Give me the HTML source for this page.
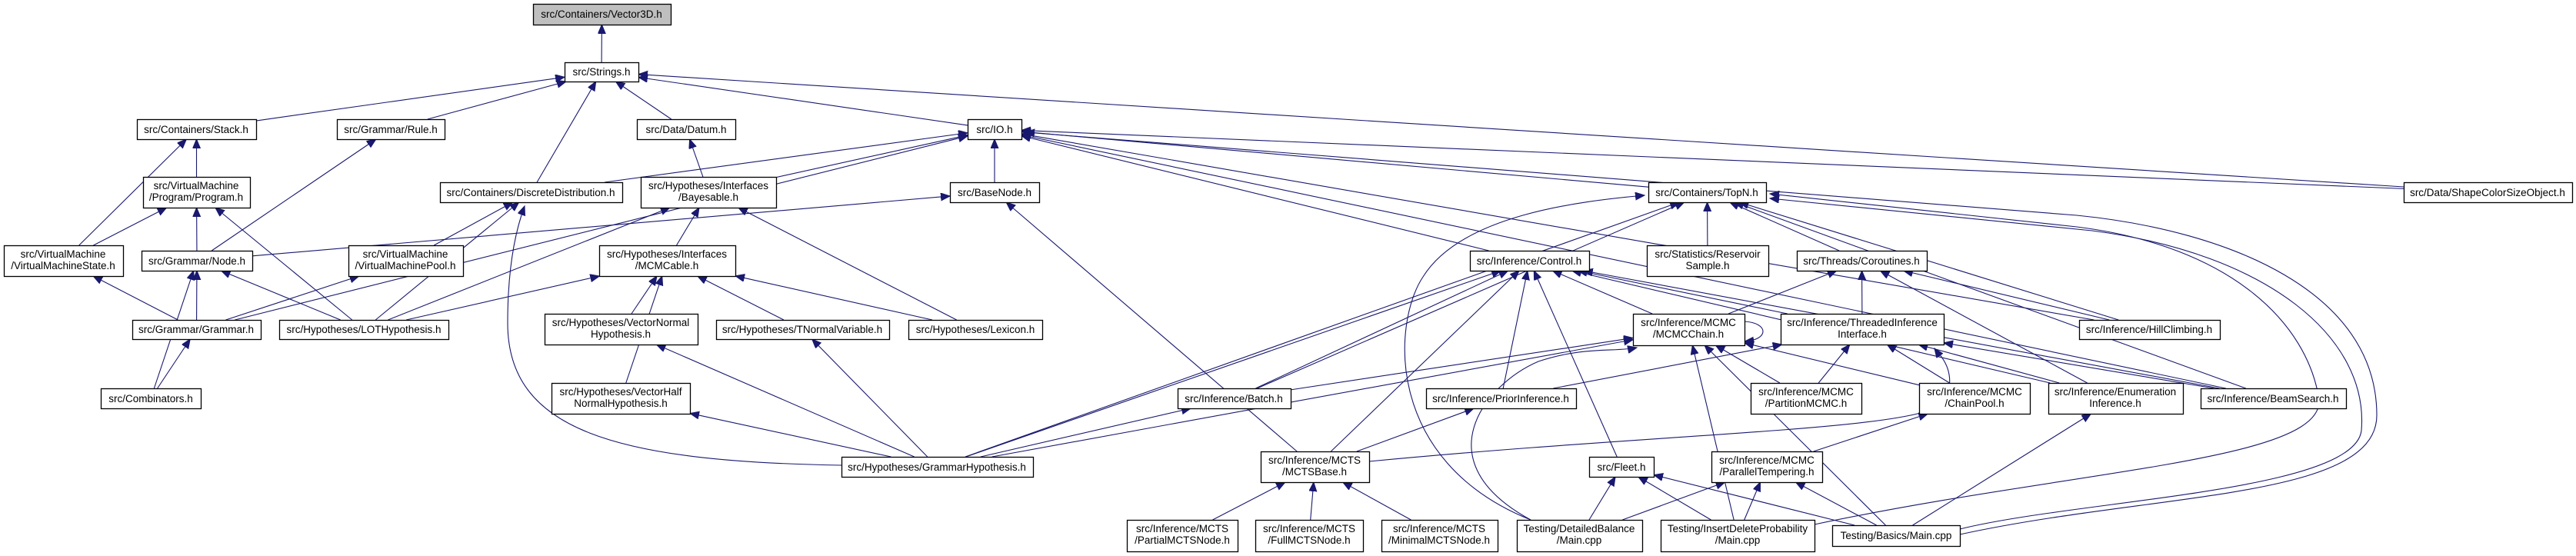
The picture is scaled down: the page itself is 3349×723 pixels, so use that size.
<!DOCTYPE html>
<html><head><meta charset="utf-8"><style>
html,body{margin:0;padding:0;background:#fff;}
svg{display:block;}
text{font-family:"Liberation Sans",Arial,sans-serif;font-size:13.5px;fill:#000;}
</style></head><body>
<svg id="g" xmlns="http://www.w3.org/2000/svg" width="3349" height="723" viewBox="0 0 3349 723">
<defs><marker id="a" markerUnits="userSpaceOnUse" markerWidth="14" markerHeight="12" refX="12" refY="5" orient="auto"><path d="M0,0 L12,5 L0,10 z" fill="#191970" stroke="#191970"/></marker></defs>
<g id="edges" fill="none" stroke="#191970" stroke-width="1.1"></g>
<g id="nodes"></g>
</svg>
<script>
var N={
V3D:[693,5,179,27,["src/Containers/Vector3D.h"],1],
STR:[734,81,96,25,["src/Strings.h"]],
STACK:[178,155,155,26,["src/Containers/Stack.h"]],
RULE:[438,155,140,26,["src/Grammar/Rule.h"]],
DATUM:[828,155,128,26,["src/Data/Datum.h"]],
IO:[1258,155,70,26,["src/IO.h"]],
SHAPE:[3125,237,219,26,["src/Data/ShapeColorSizeObject.h"]],
PROG:[186,230,139,40,["src/VirtualMachine","/Program/Program.h"]],
DD:[572,237,237,26,["src/Containers/DiscreteDistribution.h"]],
BAYES:[833,230,176,40,["src/Hypotheses/Interfaces","/Bayesable.h"]],
BASE:[1235,237,116,26,["src/BaseNode.h"]],
TOPN:[2143,237,153,26,["src/Containers/TopN.h"]],
VMS:[5,319,155,40,["src/VirtualMachine","/VirtualMachineState.h"]],
NODE:[184,326,144,26,["src/Grammar/Node.h"]],
VMP:[453,319,149,40,["src/VirtualMachine","/VirtualMachinePool.h"]],
MCMCABLE:[779,319,177,40,["src/Hypotheses/Interfaces","/MCMCable.h"]],
CONTROL:[1911,326,155,26,["src/Inference/Control.h"]],
RES:[2141,319,158,40,["src/Statistics/Reservoir","Sample.h"]],
COR:[2336,326,169,26,["src/Threads/Coroutines.h"]],
GRAMMAR:[172,416,167,25,["src/Grammar/Grammar.h"]],
LOT:[363,416,220,25,["src/Hypotheses/LOTHypothesis.h"]],
VNH:[708,408,199,40,["src/Hypotheses/VectorNormal","Hypothesis.h"]],
TNV:[931,416,225,25,["src/Hypotheses/TNormalVariable.h"]],
LEX:[1181,416,174,25,["src/Hypotheses/Lexicon.h"]],
MCMCCHAIN:[2123,408,145,41,["src/Inference/MCMC","/MCMCChain.h"]],
TII:[2315,408,212,40,["src/Inference/ThreadedInference","Interface.h"]],
HILL:[2703,416,183,25,["src/Inference/HillClimbing.h"]],
COMB:[131,505,130,26,["src/Combinators.h"]],
VHNH:[717,498,180,40,["src/Hypotheses/VectorHalf","NormalHypothesis.h"]],
BATCH:[1531,505,147,26,["src/Inference/Batch.h"]],
PRIOR:[1854,505,195,26,["src/Inference/PriorInference.h"]],
PART:[2276,498,144,40,["src/Inference/MCMC","/PartitionMCMC.h"]],
CHAINPOOL:[2495,498,144,40,["src/Inference/MCMC","/ChainPool.h"]],
ENUM:[2663,498,175,40,["src/Inference/Enumeration","Inference.h"]],
BEAM:[2861,505,189,26,["src/Inference/BeamSearch.h"]],
GH:[1094,594,249,26,["src/Hypotheses/GrammarHypothesis.h"]],
MCTS:[1639,587,141,40,["src/Inference/MCTS","/MCTSBase.h"]],
FLEET:[2066,594,84,26,["src/Fleet.h"]],
PT:[2225,587,144,40,["src/Inference/MCMC","/ParallelTempering.h"]],
PMN:[1465,676,144,41,["src/Inference/MCTS","/PartialMCTSNode.h"]],
FMN:[1632,676,140,41,["src/Inference/MCTS","/FullMCTSNode.h"]],
MMN:[1796,676,151,41,["src/Inference/MCTS","/MinimalMCTSNode.h"]],
DB:[1972,676,163,41,["Testing/DetailedBalance","/Main.cpp"]],
IDP:[2159,676,200,41,["Testing/InsertDeleteProbability","/Main.cpp"]],
BASICS:[2382,683,166,27,["Testing/Basics/Main.cpp"]]
};
var E="STR>V3D STACK>STR RULE>STR DD>STR DATUM>STR IO>STR SHAPE>STR PROG>STACK VMS>STACK VMS>PROG NODE>PROG LOT>PROG NODE>RULE GRAMMAR>VMS GRAMMAR>NODE GRAMMAR>VMP GRAMMAR>IO COMB>NODE COMB>GRAMMAR LOT>NODE LOT>DD LOT>BAYES LOT>MCMCABLE VMP>DD NODE>BASE DD>IO BAYES>IO BASE>IO TOPN>IO CONTROL>IO SHAPE>IO HILL>IO BEAM>IO BAYES>DATUM MCMCABLE>BAYES LEX>BAYES LEX>MCMCABLE TNV>MCMCABLE VNH>MCMCABLE VHNH>MCMCABLE GH>VNH GH>VHNH GH>TNV GH>TOPN GH>CONTROL GH>BATCH GH>MCMCCHAIN MCTS>BASE RES>TOPN COR>TOPN HILL>TOPN BEAM>TOPN BATCH>TOPN BATCH>CONTROL MCTS>CONTROL PRIOR>CONTROL FLEET>CONTROL MCMCCHAIN>CONTROL TII>CONTROL ENUM>CONTROL BEAM>CONTROL MCMCCHAIN>COR TII>COR HILL>COR ENUM>COR BATCH>MCMCCHAIN PART>MCMCCHAIN CHAINPOOL>MCMCCHAIN IDP>MCMCCHAIN BASICS>MCMCCHAIN PRIOR>TII PART>TII CHAINPOOL>TII ENUM>TII BEAM>TII MCTS>PRIOR PMN>MCTS FMN>MCTS MMN>MCTS DB>FLEET IDP>FLEET BASICS>FLEET DB>PT IDP>PT BASICS>PT PT>CHAINPOOL BASICS>ENUM".split(" ");
var P=[
"M1094,605 C800,600 660,560 660,420 C660,340 672,295 682,268",
"M2548,695 C2800,640 3090,650 3090,540 C3090,380 2900,300 2700,280 L1333,172",
"M2359,682 C2700,610 3020,600 3015,520 C3000,420 2900,320 2700,295 L2301,252",
"M2548,688 C2700,650 3060,640 3070,560 C3080,440 2950,330 2720,300 L2301,258",
"M1990,676 C1800,600 1810,420 1850,360 C1900,280 2050,262 2138,254",
"M1990,676 C1850,600 1930,500 2000,470 C2060,450 2100,458 2128,452",
"M2268,418 C2300,420 2300,442 2268,444",
"M1780,600 C2200,560 2510,560 2530,520 C2545,480 2520,460 2515,453"
];
var ns="http://www.w3.org/2000/svg",eg=document.getElementById("edges"),ng=document.getElementById("nodes");
function clip(b,cx,cy,dx,dy){var hw=b[2]/2,hh=b[3]/2,t=1e9;if(dx)t=Math.min(t,hw/Math.abs(dx));if(dy)t=Math.min(t,hh/Math.abs(dy));return [cx+dx*t,cy+dy*t];}
E.forEach(function(e){var p=e.split(">"),s=N[p[0]],d=N[p[1]];var sx=s[0]+s[2]/2,sy=s[1]+s[3]/2,dx=d[0]+d[2]/2,dy=d[1]+d[3]/2;
var vx=dx-sx,vy=dy-sy;var a=clip(s,sx,sy,vx,vy),b=clip(d,dx,dy,-vx,-vy);
var l=document.createElementNS(ns,"path");l.setAttribute("d","M"+a[0]+","+a[1]+" L"+b[0]+","+b[1]);l.setAttribute("marker-end","url(#a)");eg.appendChild(l);});
P.forEach(function(d){var l=document.createElementNS(ns,"path");l.setAttribute("d",d);l.setAttribute("marker-end","url(#a)");eg.appendChild(l);});
for(var k in N){var n=N[k];var r=document.createElementNS(ns,"rect");r.setAttribute("x",n[0]+0.5);r.setAttribute("y",n[1]+0.5);r.setAttribute("width",n[2]);r.setAttribute("height",n[3]);r.setAttribute("fill",n[5]?"#bfbfbf":"#fff");r.setAttribute("stroke","#000");r.setAttribute("stroke-width","1.3");ng.appendChild(r);}
</script>
<svg style="position:absolute;left:0;top:0" width="3349" height="723" viewBox="0 0 3349 723" xmlns="http://www.w3.org/2000/svg" text-anchor="middle">
<text x="782" y="23">src/Containers/Vector3D.h</text>
<text x="782" y="98">src/Strings.h</text>
<text x="255" y="173">src/Containers/Stack.h</text>
<text x="508" y="173">src/Grammar/Rule.h</text>
<text x="892" y="173">src/Data/Datum.h</text>
<text x="1293" y="173">src/IO.h</text>
<text x="3234" y="255">src/Data/ShapeColorSizeObject.h</text>
<text x="255" y="246">src/VirtualMachine</text><text x="255" y="261">/Program/Program.h</text>
<text x="690" y="255">src/Containers/DiscreteDistribution.h</text>
<text x="921" y="246">src/Hypotheses/Interfaces</text><text x="921" y="261">/Bayesable.h</text>
<text x="1293" y="255">src/BaseNode.h</text>
<text x="2219" y="255">src/Containers/TopN.h</text>
<text x="82" y="335">src/VirtualMachine</text><text x="82" y="350">/VirtualMachineState.h</text>
<text x="256" y="344">src/Grammar/Node.h</text>
<text x="527" y="335">src/VirtualMachine</text><text x="527" y="350">/VirtualMachinePool.h</text>
<text x="867" y="335">src/Hypotheses/Interfaces</text><text x="867" y="350">/MCMCable.h</text>
<text x="1988" y="344">src/Inference/Control.h</text>
<text x="2220" y="335">src/Statistics/Reservoir</text><text x="2220" y="350">Sample.h</text>
<text x="2420" y="344">src/Threads/Coroutines.h</text>
<text x="255" y="433">src/Grammar/Grammar.h</text>
<text x="473" y="433">src/Hypotheses/LOTHypothesis.h</text>
<text x="807" y="424">src/Hypotheses/VectorNormal</text><text x="807" y="439">Hypothesis.h</text>
<text x="1043" y="433">src/Hypotheses/TNormalVariable.h</text>
<text x="1268" y="433">src/Hypotheses/Lexicon.h</text>
<text x="2195" y="424">src/Inference/MCMC</text><text x="2195" y="439">/MCMCChain.h</text>
<text x="2421" y="424">src/Inference/ThreadedInference</text><text x="2421" y="439">Interface.h</text>
<text x="2794" y="433">src/Inference/HillClimbing.h</text>
<text x="196" y="523">src/Combinators.h</text>
<text x="807" y="514">src/Hypotheses/VectorHalf</text><text x="807" y="529">NormalHypothesis.h</text>
<text x="1604" y="523">src/Inference/Batch.h</text>
<text x="1951" y="523">src/Inference/PriorInference.h</text>
<text x="2348" y="514">src/Inference/MCMC</text><text x="2348" y="529">/PartitionMCMC.h</text>
<text x="2567" y="514">src/Inference/MCMC</text><text x="2567" y="529">/ChainPool.h</text>
<text x="2750" y="514">src/Inference/Enumeration</text><text x="2750" y="529">Inference.h</text>
<text x="2955" y="523">src/Inference/BeamSearch.h</text>
<text x="1218" y="612">src/Hypotheses/GrammarHypothesis.h</text>
<text x="1709" y="603">src/Inference/MCTS</text><text x="1709" y="618">/MCTSBase.h</text>
<text x="2108" y="612">src/Fleet.h</text>
<text x="2297" y="603">src/Inference/MCMC</text><text x="2297" y="618">/ParallelTempering.h</text>
<text x="1537" y="692">src/Inference/MCTS</text><text x="1537" y="707">/PartialMCTSNode.h</text>
<text x="1702" y="692">src/Inference/MCTS</text><text x="1702" y="707">/FullMCTSNode.h</text>
<text x="1871" y="692">src/Inference/MCTS</text><text x="1871" y="707">/MinimalMCTSNode.h</text>
<text x="2053" y="692">Testing/DetailedBalance</text><text x="2053" y="707">/Main.cpp</text>
<text x="2259" y="692">Testing/InsertDeleteProbability</text><text x="2259" y="707">/Main.cpp</text>
<text x="2465" y="701">Testing/Basics/Main.cpp</text>
</svg>
</body></html>
